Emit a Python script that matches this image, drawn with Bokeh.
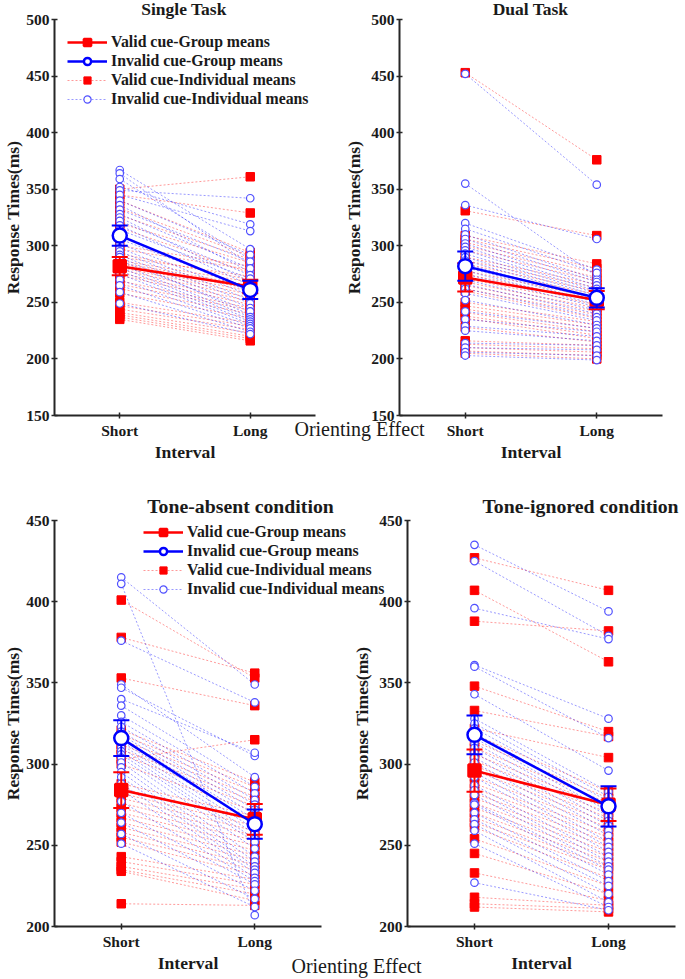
from bokeh.plotting import figure
from bokeh.layouts import row, column
from bokeh.models import Range1d, FixedTicker, Label, Legend, LegendItem
from bokeh.embed import file_html
from bokeh.resources import INLINE

S = 1.0
FONT = "Liberation Serif"
INK = "#1a1a1a"
AXIS = "#262626"
RED = "#ff0000"
BLUE = "#0000ff"
IND_BLUE = "#5050ff"
NAN = float("nan")

categories = ["Short", "Long"]
cat_x = [1, 2]
ticks_top = [150, 200, 250, 300, 350, 400, 450, 500]
ticks_bottom = [200, 250, 300, 350, 400, 450]
legend_labels = ["Valid cue-Group means", "Invalid cue-Group means",
                 "Valid cue-Individual means", "Invalid cue-Individual means"]
panel_titles = ["Single Task", "Dual Task", "Tone-absent condition", "Tone-ignored condition"]
shared_label = "Orienting Effect"

# ---------------- Single Task ----------------
single_valid_short = [350, 345, 340, 333, 327, 320, 316, 300, 297, 293, 290, 287, 285, 284, 282,
                      281, 279, 276, 274, 269, 266, 262, 258, 250, 247, 244, 241, 239, 237, 235]
single_valid_long = [361, 329, 294, 291, 288, 285, 276, 282, 279, 270, 273, 268, 265, 262, 260,
                     257, 254, 251, 248, 245, 243, 240, 236, 232, 229, 226, 223, 220, 218, 216]
single_invalid_short = [367, 364, 359, 352, 349, 345, 340, 336, 332, 328, 325, 322, 318, 314, 310,
                        306, 302, 298, 295, 292, 290, 287, 284, 281, 278, 275, 270, 265, 259, 249]
single_invalid_long = [297, 283, 288, 319, 342, 313, 292, 277, 286, 280, 268, 274, 265, 271, 259,
                       262, 256, 252, 249, 245, 239, 242, 237, 235, 233, 231, 229, 227, 224, 222]
single_group_valid = [282, 264]
single_group_valid_se = [8, 6]
single_group_invalid = [309, 261]
single_group_invalid_se = [9, 8]

# ---------------- Dual Task ----------------
dual_valid_short = [453, 331, 309, 306, 303, 300, 296, 290, 287, 284, 281, 278, 275, 271, 268,
                    265, 262, 260, 250, 247, 244, 241, 238, 236, 228, 216, 213, 210, 207, 205]
dual_valid_long = [376, 309, 284, 280, 276, 272, 269, 266, 263, 260, 257, 254, 251, 248, 245,
                   242, 239, 236, 233, 230, 227, 224, 221, 218, 215, 212, 209, 206, 203, 200]
dual_invalid_short = [452, 355, 336, 320, 315, 310, 306, 302, 299, 296, 293, 290, 287, 284, 281,
                      278, 275, 270, 266, 262, 258, 252, 242, 235, 229, 225, 214, 210, 206, 203]
dual_invalid_long = [354, 273, 306, 279, 276, 270, 268, 265, 262, 260, 258, 256, 254, 252, 250,
                     248, 246, 243, 240, 237, 234, 230, 227, 224, 220, 216, 212, 208, 203, 199]
dual_group_valid = [272, 252]
dual_group_valid_se = [12.5, 8]
dual_group_invalid = [282, 254]
dual_group_invalid_se = [13, 8.5]

# ---------------- Tone-absent condition ----------------
absent_valid_short = [401, 378, 353, 321, 318, 315, 312, 309, 306, 303, 300, 288, 285, 282, 279,
                      276, 273, 270, 267, 264, 261, 258, 255, 252, 243, 240, 237, 235, 234, 214]
absent_valid_long = [353, 356, 336, 289, 286, 283, 280, 277, 274, 315, 271, 268, 265, 262, 259,
                     256, 253, 250, 247, 244, 241, 238, 235, 232, 229, 226, 223, 220, 216, 213]
absent_invalid_short = [415, 411, 376, 349, 347, 340, 336, 330, 326, 323, 320, 318, 316, 314, 312,
                        310, 308, 306, 304, 301, 298, 295, 292, 288, 284, 277, 270, 264, 257, 251]
absent_invalid_long = [349, 207, 338, 292, 305, 307, 286, 282, 278, 275, 272, 269, 266, 263, 260,
                       257, 254, 252, 248, 243, 240, 237, 235, 233, 230, 228, 226, 222, 217, 212]
absent_group_valid = [284, 266]
absent_group_valid_se = [11, 9.5]
absent_group_invalid = [316, 263]
absent_group_invalid_se = [11, 9]

# ---------------- Tone-ignored condition ----------------
ignored_valid_short = [427, 407, 388, 348, 333, 322, 318, 314, 310, 306, 302, 299, 296, 292, 288,
                       285, 282, 279, 276, 273, 270, 267, 264, 261, 254, 245, 233, 218, 214, 212]
ignored_valid_long = [407, 363, 382, 320, 317, 304, 283, 279, 276, 273, 270, 267, 264, 261, 258,
                      255, 252, 249, 246, 243, 240, 237, 235, 230, 225, 220, 216, 213, 211, 209]
ignored_invalid_short = [435, 425, 396, 361, 360, 343, 328, 325, 322, 319, 316, 313, 310, 307, 304,
                         301, 298, 295, 292, 287, 284, 281, 276, 275, 270, 266, 263, 259, 251, 227]
ignored_invalid_long = [394, 379, 377, 328, 316, 296, 283, 280, 277, 274, 271, 268, 265, 262, 259,
                        256, 252, 249, 246, 243, 240, 237, 235, 232, 228, 225, 220, 215, 212, 210]
ignored_group_valid = [296, 275]
ignored_group_valid_se = [13, 10]
ignored_group_invalid = [318, 274]
ignored_group_invalid_se = [12, 12.4]


def fs(v):
    return f"{v * S:.1f}px"


LEG_ITEM_H = 18
LEG_SPACING = 1
LEG_H = 4 * LEG_ITEM_H + 3 * LEG_SPACING


def style_legend(items, location):
    return Legend(items=items, location=location, glyph_width=round(40 * S),
                  glyph_height=LEG_ITEM_H, label_height=LEG_ITEM_H, spacing=LEG_SPACING,
                  padding=0, margin=0,
                  label_standoff=4, label_text_font=FONT, label_text_font_style="bold",
                  label_text_font_size=fs(15.8), label_text_color=INK,
                  label_text_baseline="middle",
                  background_fill_alpha=0, border_line_color=None)


STY = {
    "ind_line_v": dict(line_color=RED, line_alpha=0.4, line_dash="2 2", line_width=1),
    "ind_line_i": dict(line_color=BLUE, line_alpha=0.4, line_dash="2 2", line_width=1),
    "ind_mark_v": dict(marker="square", size=8.5 * S, fill_color=RED, line_color=RED, line_width=1),
    "ind_mark_i": dict(marker="circle", size=7.5 * S, fill_color="white", line_color=IND_BLUE,
                       line_width=1.2),
    "grp_line_v": dict(line_color=RED, line_width=2.5),
    "grp_line_i": dict(line_color=BLUE, line_width=2.5),
    "grp_mark_v": dict(marker="square", size=12 * S, fill_color=RED, line_color=RED, line_width=2.5),
    "grp_mark_i": dict(marker="circle", size=14 * S, fill_color="white", line_color=BLUE,
                       line_width=2.5),
}


def add_series(p, vs, vl, ivs, ivl, gv, gv_se, gi, gi_se):
    n = len(vs)
    m = len(ivs)
    r_vl = p.multi_line(xs=[cat_x] * n, ys=[[a, b] for a, b in zip(vs, vl)], **STY["ind_line_v"])
    r_il = p.multi_line(xs=[cat_x] * m, ys=[[a, b] for a, b in zip(ivs, ivl)], **STY["ind_line_i"])
    r_vm = p.scatter(x=[cat_x[0]] * n + [cat_x[1]] * n, y=list(vs) + list(vl), **STY["ind_mark_v"])
    r_im = p.scatter(x=[cat_x[0]] * m + [cat_x[1]] * m, y=list(ivs) + list(ivl), **STY["ind_mark_i"])

    def group(means, se, color, key):
        lo = [a - e for a, e in zip(means, se)]
        hi = [a + e for a, e in zip(means, se)]
        rl = p.line(x=cat_x, y=means, **STY["grp_line_" + key])
        p.segment(x0=cat_x, y0=lo, x1=cat_x, y1=hi, line_color=color, line_width=2)
        p.scatter(x=cat_x + cat_x, y=lo + hi, marker="dash", size=16 * S,
                  line_color=color, line_width=2)
        rm = p.scatter(x=cat_x, y=means, **STY["grp_mark_" + key])
        return rl, rm

    rgl, rgm = group(gv, gv_se, RED, "v")
    bgl, bgm = group(gi, gi_se, BLUE, "i")
    return [LegendItem(label=legend_labels[0], renderers=[rgl, rgm]),
            LegendItem(label=legend_labels[1], renderers=[bgl, bgm]),
            LegendItem(label=legend_labels[2], renderers=[r_vl, r_vm]),
            LegendItem(label=legend_labels[3], renderers=[r_il, r_im])]


def make_panel(data, yr, yticks, canvas_w, canvas_h, frame, ylabel_gap, legend_at=None):
    fl, fr, ft, fb = frame
    W = round(canvas_w * S)
    H = round(canvas_h * S)
    fl_s, fr_s, ft_s, fb_s = round(fl * S), round(fr * S), round(ft * S), round(fb * S)
    p = figure(width=W, height=H, output_backend="svg", toolbar_location=None,
               x_range=Range1d(0.5, 2.5), y_range=Range1d(yr[0], yr[1]),
               min_border_left=fl_s, min_border_right=W - fr_s,
               min_border_top=ft_s, min_border_bottom=H - fb_s)
    p.background_fill_color = None
    p.border_fill_color = None
    p.outline_line_color = None
    p.xgrid.visible = False
    p.ygrid.visible = False

    for ax in (p.xaxis[0], p.yaxis[0]):
        ax.axis_line_color = AXIS
        ax.axis_line_width = 2
        ax.major_tick_line_color = AXIS
        ax.major_tick_line_width = 1.5
        ax.major_tick_in = 3
        ax.major_tick_out = 3
        ax.minor_tick_line_color = None
        ax.major_label_text_font = FONT
        ax.major_label_text_font_style = "bold"
        ax.major_label_text_font_size = fs(15.5)
        ax.major_label_text_color = INK
        ax.axis_label_text_font = FONT
        ax.axis_label_text_font_style = "bold"
        ax.axis_label_text_font_size = fs(17.6)
        ax.axis_label_text_color = INK

    p.yaxis.ticker = FixedTicker(ticks=yticks)
    p.yaxis.major_label_standoff = 2
    p.yaxis.axis_label = "Response Times(ms)"
    p.yaxis.axis_label_standoff = ylabel_gap
    p.xaxis.ticker = FixedTicker(ticks=cat_x)
    p.xaxis.major_label_overrides = {cx: c for cx, c in zip(cat_x, categories)}
    p.xaxis.major_label_standoff = 3
    p.xaxis.axis_label = "Interval"
    p.xaxis.axis_label_standoff = 0

    items = add_series(p, *data)
    if legend_at is not None:
        gx, row1 = legend_at
        leg_top = round(row1 * S - LEG_ITEM_H / 2)
        leg_bottom = leg_top + LEG_H
        p.add_layout(style_legend(items, (round(gx * S) - fl_s, fb_s - leg_bottom)))
    return p


def make_overlay(width, y_top, y_bottom, texts, legend_at=None):
    """Transparent text layer over one row; its data units are page pixels."""
    H = round((y_bottom - y_top) * S)
    ov = figure(width=width, height=H, output_backend="svg", toolbar_location=None,
                x_range=Range1d(0, 685), y_range=Range1d(y_bottom, y_top),
                x_axis_type=None, y_axis_type=None, title=None,
                min_border=0, min_border_left=0, min_border_right=0,
                min_border_top=0, min_border_bottom=0)
    ov.background_fill_color = None
    ov.border_fill_color = None
    ov.outline_line_color = None
    ov.grid.visible = False
    for text, x, y, size, style in texts:
        ov.add_layout(Label(x=x, y=y, text=text, text_font=FONT, text_font_style=style,
                            text_font_size=fs(size), text_align="center",
                            text_baseline="middle", text_color=INK))
    if legend_at is not None:
        # legend keys only (NaN = nothing plotted), same styles as the plotted series
        kl_v = ov.line(x=[NAN], y=[NAN], **STY["grp_line_v"])
        km_v = ov.scatter(x=[NAN], y=[NAN], **STY["grp_mark_v"])
        kl_i = ov.line(x=[NAN], y=[NAN], **STY["grp_line_i"])
        km_i = ov.scatter(x=[NAN], y=[NAN], **STY["grp_mark_i"])
        kl_vi = ov.multi_line(xs=[[NAN, NAN]], ys=[[NAN, NAN]], **STY["ind_line_v"])
        km_vi = ov.scatter(x=[NAN], y=[NAN], **STY["ind_mark_v"])
        kl_ii = ov.multi_line(xs=[[NAN, NAN]], ys=[[NAN, NAN]], **STY["ind_line_i"])
        km_ii = ov.scatter(x=[NAN], y=[NAN], **STY["ind_mark_i"])
        items = [LegendItem(label=legend_labels[0], renderers=[kl_v, km_v]),
                 LegendItem(label=legend_labels[1], renderers=[kl_i, km_i]),
                 LegendItem(label=legend_labels[2], renderers=[kl_vi, km_vi]),
                 LegendItem(label=legend_labels[3], renderers=[kl_ii, km_ii])]
        gx, row1 = legend_at
        leg_top = round((row1 - y_top) * S - LEG_ITEM_H / 2)
        leg_bottom = leg_top + LEG_H
        ov.add_layout(style_legend(items, (round(gx * S), H - leg_bottom)))
    return ov


single_data = (single_valid_short, single_valid_long, single_invalid_short, single_invalid_long,
               single_group_valid, single_group_valid_se, single_group_invalid, single_group_invalid_se)
dual_data = (dual_valid_short, dual_valid_long, dual_invalid_short, dual_invalid_long,
             dual_group_valid, dual_group_valid_se, dual_group_invalid, dual_group_invalid_se)
absent_data = (absent_valid_short, absent_valid_long, absent_invalid_short, absent_invalid_long,
               absent_group_valid, absent_group_valid_se, absent_group_invalid, absent_group_invalid_se)
ignored_data = (ignored_valid_short, ignored_valid_long, ignored_invalid_short, ignored_invalid_long,
                ignored_group_valid, ignored_group_valid_se, ignored_group_invalid,
                ignored_group_invalid_se)

TOP_H = 475
BOT_H = 503

tl = make_panel(single_data, (150, 500), ticks_top, 430, TOP_H, (52, 315, 19, 415), 0,
                legend_at=(65, 42))
tr = make_panel(dual_data, (150, 500), ticks_top, 345, TOP_H, (59, 322, 19, 415), 4)
bl = make_panel(absent_data, (200, 450), ticks_bottom, 430, BOT_H, (52, 321, 45, 451), 0)
br = make_panel(ignored_data, (200, 450), ticks_bottom, 340, BOT_H, (62, 330, 45, 451), 4)

tr.margin = (0, 0, 0, -(tl.width - round(340 * S)))
br.margin = (0, 0, 0, -(bl.width - round(345 * S)))
row_w = tl.width + tr.width + tr.margin[3]

ov_top = make_overlay(row_w, 0, TOP_H, [
    (panel_titles[0], 183.5, 8, 17.5, "bold"),
    (panel_titles[1], 530, 8, 17.5, "bold"),
    (shared_label, 359, 428, 20, "normal"),
])
ov_bottom = make_overlay(row_w, TOP_H, TOP_H + BOT_H, [
    (panel_titles[2], 240, 505, 19.8, "bold"),
    (panel_titles[3], 580, 505, 19.8, "bold"),
    (shared_label, 356, 965, 20, "normal"),
], legend_at=(143, 532))

ov_top.margin = (-tl.height, 0, 0, 0)
ov_bottom.margin = (-bl.height, 0, 0, 0)

layout = column(row(tl, tr), ov_top, row(bl, br), ov_bottom)
open("out.html", "w").write(file_html(layout, INLINE))
